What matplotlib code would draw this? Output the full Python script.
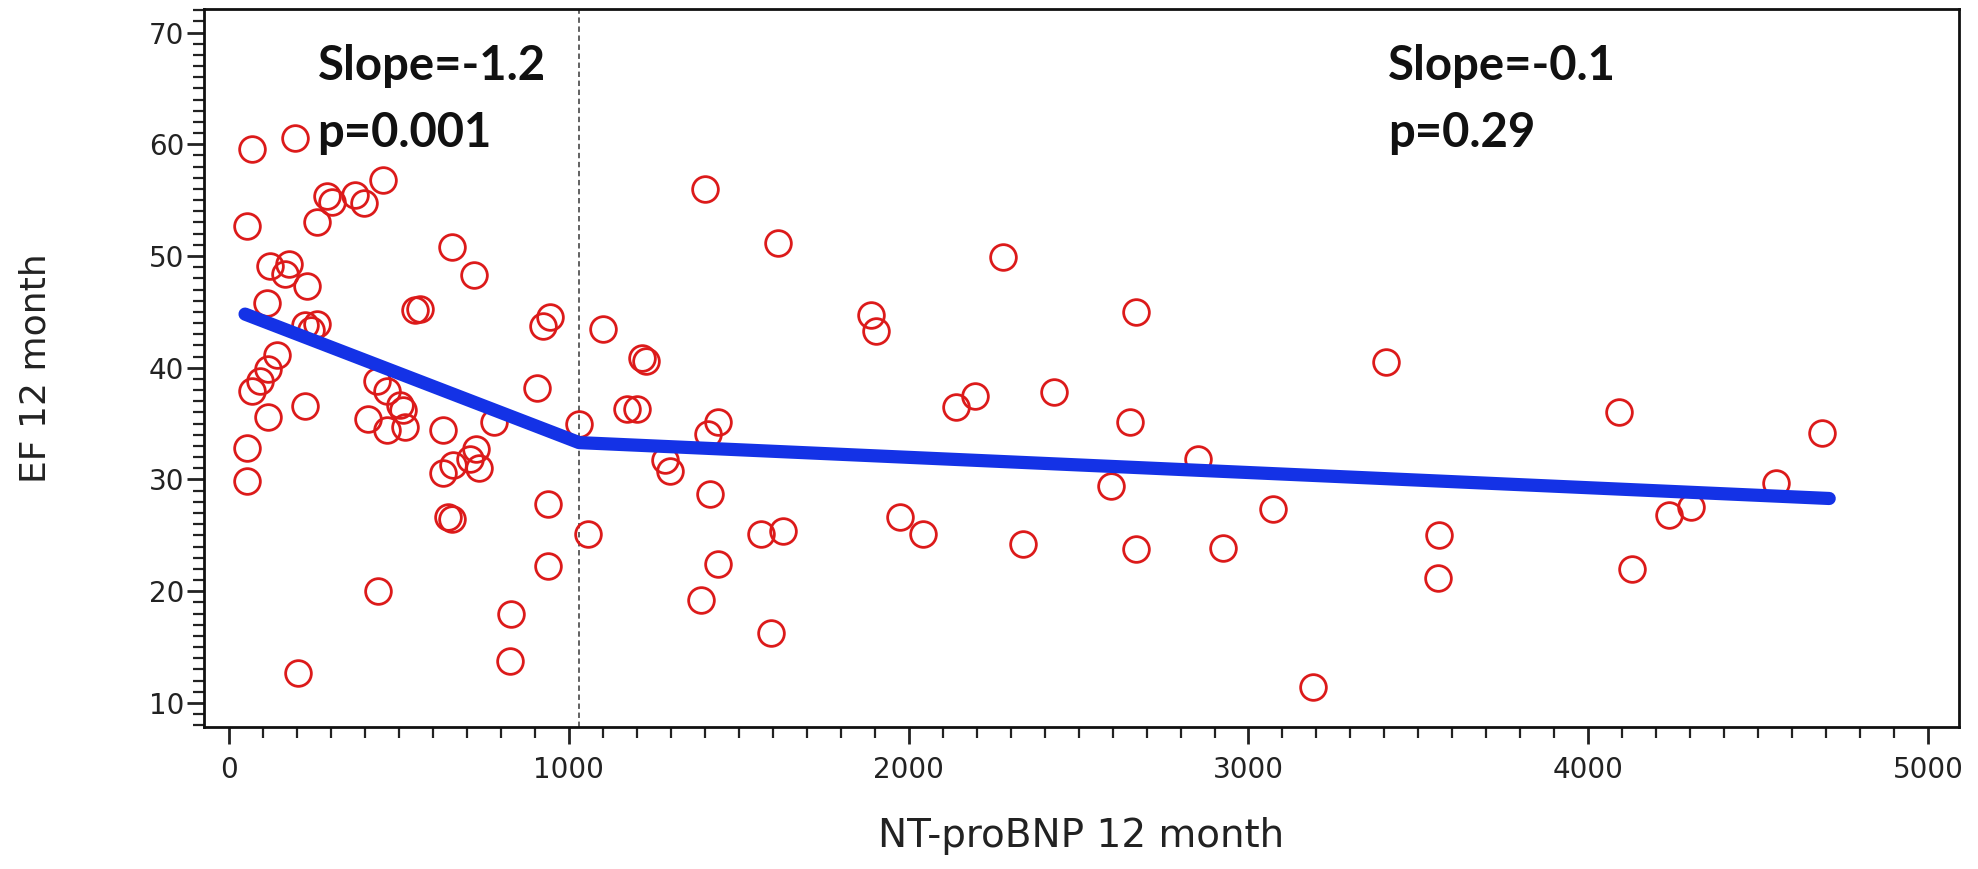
import matplotlib
matplotlib.use("Agg")
import matplotlib.pyplot as plt
from matplotlib.ticker import MultipleLocator

# NT-proBNP at 12 months (x) vs EF at 12 months (y)
ntprobnp = [67, 194, 52, 454, 287, 302, 258, 370, 398, 657,
            721, 121, 175, 165, 228, 111, 562, 547, 925, 944,
            222, 240, 258, 140, 116, 91, 67, 116, 224, 52,
            52, 434, 464, 503, 513, 410, 464, 518, 630, 780,
            905, 1030, 727, 709, 735, 660, 630, 939, 645, 655,
            939, 439, 831, 826, 204,
            1057, 1100, 1215, 1228, 1170, 1199, 1282, 1297, 1439, 1410,
            1415, 1566, 1630, 1439, 1390, 1596, 1400, 1616, 2277, 1890,
            1905, 2669, 3405, 2140, 2194, 2429, 2650, 2596, 1974, 2042,
            2336, 2669, 2851, 2924, 3071, 3189, 3562, 3557, 4091, 4689,
            4552, 4238, 4302, 4130]
ef = [59.6, 60.6, 52.7, 56.8, 55.4, 54.8, 53.0, 55.5, 54.7, 50.8,
      48.3, 49.1, 49.3, 48.4, 47.3, 45.8, 45.3, 45.2, 43.7, 44.5,
      43.8, 43.4, 43.9, 41.1, 39.9, 38.8, 37.9, 35.6, 36.6, 32.8,
      29.9, 38.8, 37.9, 36.7, 36.2, 35.4, 34.4, 34.7, 34.4, 35.1,
      38.2, 35.0, 32.7, 31.8, 31.0, 31.3, 30.6, 27.8, 26.6, 26.5,
      22.3, 20.0, 18.0, 13.8, 12.7,
      25.1, 43.5, 40.9, 40.6, 36.3, 36.3, 31.7, 30.8, 35.1, 34.1,
      28.7, 25.1, 25.4, 22.4, 19.2, 16.3, 56.0, 51.2, 49.9, 44.7,
      43.3, 45.0, 40.5, 36.5, 37.5, 37.8, 35.1, 29.4, 26.6, 25.1,
      24.2, 23.8, 31.8, 23.9, 27.4, 11.4, 25.0, 21.2, 36.0, 34.2,
      29.7, 26.8, 27.5, 22.0]

# piecewise regression line (start, knot, end)
fit_x = [47, 1030, 4709]
fit_y = [44.8, 33.3, 28.3]
knot = 1030

labels_left = ["Slope=-1.2", "p=0.001"]
labels_right = ["Slope=-0.1", "p=0.29"]

fig = plt.figure(figsize=(19.78, 8.69), dpi=100)
ax = fig.add_axes([0.1031, 0.1634, 0.8873, 0.8262])

ax.plot(ntprobnp, ef, linestyle="none", marker="o", markersize=18.5,
        markerfacecolor="none", markeredgecolor="#dc1a1a", markeredgewidth=2)
ax.plot(fit_x, fit_y, color="#1432e6", linewidth=9.5, solid_capstyle="round", zorder=3)
ax.axvline(knot, color="#555555", linewidth=1.3, linestyle=(0, (3, 2)), zorder=1)

ax.set_xlim(-74, 5091)
ax.set_ylim(7.85, 72.1)
ax.xaxis.set_major_locator(MultipleLocator(1000))
ax.xaxis.set_minor_locator(MultipleLocator(100))
ax.yaxis.set_major_locator(MultipleLocator(10))
ax.yaxis.set_minor_locator(MultipleLocator(1))
ax.tick_params(which="major", length=12, width=2, labelsize=20, colors="#222222")
ax.tick_params(which="minor", length=8, width=1.6, colors="#222222")
ax.tick_params(axis="x", which="major", pad=9)
ax.tick_params(axis="y", which="major", pad=2)
for s in ax.spines.values():
    s.set_linewidth(2)
    s.set_color("#111111")

ax.set_xlabel("NT-proBNP 12 month", fontsize=28, color="#222222")
ax.set_ylabel("EF 12 month", fontsize=26, color="#222222")
ax.xaxis.set_label_coords(0.5, -0.125)
ax.yaxis.set_label_coords(-0.086, 0.5)

txt = dict(fontsize=34, fontweight="bold", family="Lato", color="#111111", va="center")
ax.text(260, 67.0, labels_left[0], **txt)
ax.text(260, 61.0, labels_left[1], **txt)
ax.text(3410, 67.0, labels_right[0], **txt)
ax.text(3410, 61.0, labels_right[1], **txt)

fig.savefig("out.png", dpi=100)
